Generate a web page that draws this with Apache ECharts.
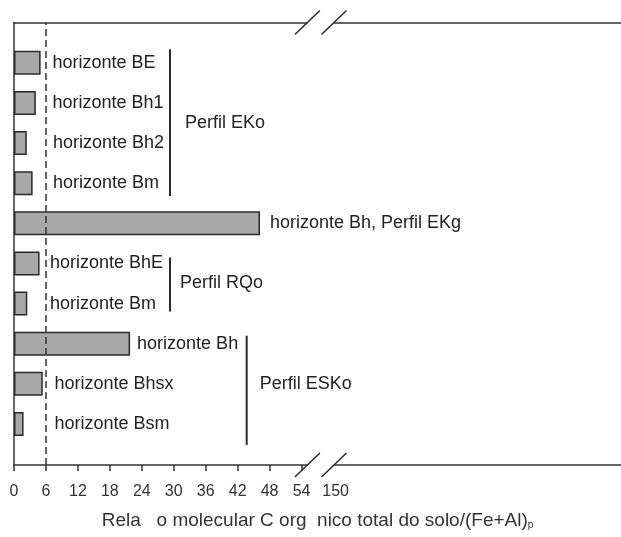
<!DOCTYPE html>
<html><head><meta charset="utf-8">
<script src="https://cdn.jsdelivr.net/npm/echarts@6/dist/echarts.min.js"></script>
<style>html,body{margin:0;padding:0;background:#fff}#c{width:621px;height:537px}</style>
</head><body><div id="c"></div>
<script>
// ---- data ----
const categories = ['horizonte BE', 'horizonte Bh1', 'horizonte Bh2', 'horizonte Bm',
  'horizonte Bh, Perfil EKg', 'horizonte BhE', 'horizonte Bm', 'horizonte Bh',
  'horizonte Bhsx', 'horizonte Bsm'];
const values = [5.0, 4.1, 2.4, 3.5, 46.2, 4.8, 2.5, 21.8, 5.4, 1.8];
const groupNames = ['Perfil EKo', 'Perfil RQo', 'Perfil ESKo'];
const groupFirst = [0, 5, 7];
const groupLast = [3, 6, 9];
const tickValues = [0, 6, 12, 18, 24, 30, 36, 42, 48, 54];
const breakLabel = '150';
const referenceValue = 6;
const axisTitle = 'Rela   o molecular C org  nico total do solo/(Fe+Al)';
const axisTitleSub = 'p';

// ---- styling / layout (not data) ----
const FONT = 'Liberation Sans';
const TXT = '#222';
const AX_MAX = 114;
const breakLabelPos = 60.4;
const breakCenters = [55.1, 60.1];
const labelMode = [['in', 38.5], ['in', 38.5], ['in', 39], ['in', 39], ['right', 10],
  ['in', 36], ['in', 36], ['right', 7], ['in', 40.5], ['in', 40.5]];
const bracketX = [29.3, 29.3, 43.7];
const bracketExt = [[13.5, 13], [6, 8], [8, 21]];
const groupTextGap = [15, 10, 13];

const chart = echarts.init(document.getElementById('c'), null, {renderer: 'canvas'});

const barData = values.map((v, i) => {
  const m = labelMode[i];
  return {
    value: v,
    label: m[0] === 'in'
      ? {position: 'insideLeft', distance: m[1]}
      : {position: 'right', distance: m[1]}
  };
});

const option = {
  animation: false,
  backgroundColor: '#fff',
  grid: [
    {left: 14, right: 0, top: 22.5, height: 442.5, containLabel: false},
    {left: 14, right: 0, top: 42.7, height: 401.3, containLabel: false}
  ],
  xAxis: [
    {
      type: 'value', gridIndex: 0, min: 0, max: AX_MAX, position: 'bottom',
      axisLine: {show: true, onZero: false, lineStyle: {color: '#333', width: 1.5}},
      axisTick: {show: true, customValues: tickValues, length: 6, lineStyle: {color: '#333', width: 1.5}},
      axisLabel: {
        show: true, customValues: tickValues.concat([breakLabelPos]),
        formatter: v => (v > 54 ? breakLabel : String(v)),
        color: '#333', fontFamily: FONT, fontSize: 16, margin: 19
      },
      splitLine: {show: false},
      name: axisTitle + '{sub|' + axisTitleSub + '}',
      nameLocation: 'middle', nameGap: 46,
      nameTextStyle: {
        color: '#333', fontFamily: FONT, fontSize: 19,
        rich: {sub: {fontSize: 10, fontFamily: FONT, color: '#333', verticalAlign: 'bottom', padding: [9, 0, 0, 0]}}
      }
    },
    {
      type: 'value', gridIndex: 0, min: 0, max: AX_MAX, position: 'top',
      axisLine: {show: true, onZero: false, lineStyle: {color: '#333', width: 1.5}},
      axisTick: {show: false}, axisLabel: {show: false}, splitLine: {show: false}
    },
    {
      type: 'value', gridIndex: 1, min: 0, max: AX_MAX, show: false,
      splitLine: {show: false}
    }
  ],
  yAxis: [
    {
      type: 'value', gridIndex: 0, min: 0, max: 1, position: 'left',
      axisLine: {show: true, onZero: false, lineStyle: {color: '#333', width: 1.5}},
      axisTick: {show: false}, axisLabel: {show: false}, splitLine: {show: false}
    },
    {
      type: 'category', gridIndex: 1, data: categories, inverse: true, show: false,
      boundaryGap: true
    }
  ],
  series: [
    {
      type: 'scatter', xAxisIndex: 0, yAxisIndex: 0, data: [], silent: true,
      markLine: {
        silent: true, symbol: 'none', animation: false,
        label: {show: false},
        lineStyle: {color: '#333', width: 1.5, type: [7, 4]},
        data: [{xAxis: referenceValue}]
      }
    },
    {
      type: 'bar', xAxisIndex: 2, yAxisIndex: 1, barWidth: 24,
      data: barData,
      itemStyle: {color: '#a8a8a8', borderColor: '#2a2a2a', borderWidth: 1.5},
      label: {
        show: true, color: TXT, fontFamily: FONT, fontSize: 18,
        formatter: p => categories[p.dataIndex]
      }
    }
  ]
};
chart.setOption(option);

// ---- annotations: brackets, group names, axis break marks ----
function px(xv) { return chart.convertToPixel({xAxisIndex: 0}, xv); }
function cy(i) { return chart.convertToPixel({yAxisIndex: 1}, i); }
const gridTop = chart.convertToPixel({yAxisIndex: 0}, 1);
const gridBot = chart.convertToPixel({yAxisIndex: 0}, 0);

const elements = [];
groupNames.forEach((name, g) => {
  const x = px(bracketX[g]);
  const y1 = cy(groupFirst[g]) - bracketExt[g][0];
  const y2 = cy(groupLast[g]) + bracketExt[g][1];
  elements.push({
    type: 'line', silent: true,
    shape: {x1: x, y1: y1, x2: x, y2: y2},
    style: {stroke: '#2a2a2a', lineWidth: 2}
  });
  elements.push({
    type: 'text', silent: true,
    x: x + groupTextGap[g], y: (cy(groupFirst[g]) + cy(groupLast[g])) / 2,
    style: {text: name, fill: TXT, font: '18px "' + FONT + '"', textVerticalAlign: 'middle', textAlign: 'left'}
  });
});
[gridTop, gridBot].forEach(y => {
  const xa = px(breakCenters[0]), xb = px(breakCenters[1]);
  elements.push({
    type: 'rect', silent: true, z: 10,
    shape: {x: xa, y: y - 3, width: xb - xa, height: 6},
    style: {fill: '#fff'}
  });
  [xa, xb].forEach(cx => {
    elements.push({
      type: 'line', silent: true, z: 11,
      shape: {x1: cx - 12.5, y1: y + 12, x2: cx + 12.5, y2: y - 12},
      style: {stroke: '#2a2a2a', lineWidth: 1.5}
    });
  });
});
chart.setOption({graphic: {elements: elements}});
</script>
</body></html>
